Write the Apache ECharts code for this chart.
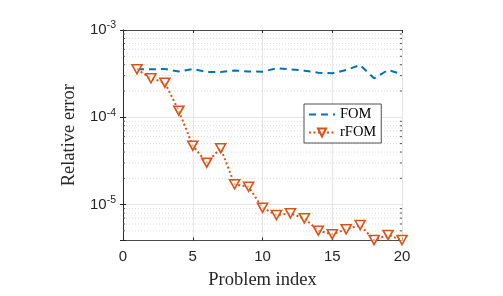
<!DOCTYPE html>
<html>
<head>
<meta charset="utf-8">
<script src="https://cdn.jsdelivr.net/npm/echarts@6/dist/echarts.min.js"></script>
<style>html,body{margin:0;padding:0;background:#fff;}#c{width:503px;height:296px;}</style>
</head>
<body>
<div id="c"></div>
<script>
var problemIndex = [1,2,3,4,5,6,7,8,9,10,11,12,13,14,15,16,17,18,19,20];
var fomError = [3.55e-4,3.55e-4,3.57e-4,3.35e-4,3.57e-4,3.3e-4,3.3e-4,3.44e-4,3.35e-4,3.33e-4,3.64e-4,3.55e-4,3.42e-4,3.24e-4,3.19e-4,3.48e-4,3.97e-4,2.8e-4,3.48e-4,3.11e-4];
var rfomError = [3.55e-4,2.8e-4,2.49e-4,1.19e-4,4.73e-5,3.02e-5,4.42e-5,1.71e-5,1.6e-5,9.2e-6,7.6e-6,7.94e-6,6.96e-6,5.03e-6,4.57e-6,5.21e-6,5.84e-6,3.92e-6,4.49e-6,3.92e-6];
var xTicks = [0,5,10,15,20];
var yMin = 3.88e-6, yMax = 1e-3;
var minorVals = [5e-6,6e-6,7e-6,8e-6,9e-6,2e-5,3e-5,4e-5,5e-5,6e-5,7e-5,8e-5,9e-5,2e-4,3e-4,4e-4,5e-4,6e-4,7e-4,8e-4,9e-4];

var axisColor = '#262626';
var chart = echarts.init(document.getElementById('c'), null, {renderer:'canvas'});
function pairs(ys){ return problemIndex.map(function(x,i){return [x, ys[i]];}); }
function yFmt(v){
  var e = Math.log10(v);
  if (Math.abs(e - Math.round(e)) > 1e-6) return '';
  return '{b|10}{s|' + Math.round(e) + '}';
}
var option = {
  animation: false,
  backgroundColor: '#fff',
  grid: {left: 123, right: 101, top: 30, bottom: 55.5, containLabel: false},
  legend: {
    orient: 'vertical', left: 304, top: 104,
    itemWidth: 26, itemHeight: 10, itemGap: 3,
    padding: [3, 5, 3, 4],
    borderColor: axisColor, borderWidth: 0.8, backgroundColor: '#fff',
    textStyle: {fontFamily: 'Liberation Serif', fontSize: 14.5, color: '#000'},
    data: [{name: 'FOM', itemStyle: {opacity: 0}}, {name: 'rFOM'}]
  },
  xAxis: [{
    type: 'value', min: 0, max: 20, interval: 5,
    axisLine: {show: true, lineStyle: {color: axisColor, width: 0.8}},
    axisTick: {show: true, inside: true, length: 3, lineStyle: {color: axisColor}},
    axisLabel: {color: axisColor, fontFamily: 'Liberation Sans', fontSize: 15, margin: 9},
    splitLine: {show: true, lineStyle: {color: '#dedede', width: 0.8}},
    name: 'Problem index', nameLocation: 'middle', nameGap: 30,
    nameTextStyle: {fontFamily: 'Liberation Serif', fontSize: 18.5, color: axisColor}
  }, {
    type: 'value', min: 0, max: 20, interval: 5, position: 'top',
    axisLine: {show: true, lineStyle: {color: axisColor, width: 0.8}},
    axisTick: {show: true, inside: true, length: 3, lineStyle: {color: axisColor}},
    axisLabel: {show: false}, splitLine: {show: false}
  }],
  yAxis: [{
    type: 'log', logBase: 10, min: yMin, max: yMax,
    axisLine: {show: true, lineStyle: {color: axisColor, width: 0.8}},
    axisTick: {show: true, inside: true, length: 3, lineStyle: {color: axisColor}},
    axisLabel: {
      color: axisColor, margin: 7, formatter: yFmt,
      rich: {
        b: {fontFamily: 'Liberation Sans', fontSize: 15, color: axisColor},
        s: {fontFamily: 'Liberation Sans', fontSize: 10.5, color: axisColor, verticalAlign: 'bottom', padding: [0, 0, 9, 0]}
      }
    },
    splitLine: {show: true, lineStyle: {color: '#dedede', width: 0.8}},
    name: 'Relative error', nameLocation: 'middle', nameGap: 44,
    nameTextStyle: {fontFamily: 'Liberation Serif', fontSize: 18.5, color: axisColor}
  }, {
    type: 'log', logBase: 10, min: yMin, max: yMax, position: 'right',
    axisLine: {show: true, lineStyle: {color: axisColor, width: 0.8}},
    axisTick: {show: true, inside: true, length: 3, lineStyle: {color: axisColor}},
    axisLabel: {show: false}, splitLine: {show: false}
  }],
  series: [{
    type: 'custom', silent: true, z: 1,
    data: minorVals.map(function(v){return [v];}),
    encode: {y: 0},
    renderItem: function(params, api){
      var v = api.value(0);
      var l = api.coord([0, v]), r = api.coord([20, v]);
      return {type: 'group', children: [
        {type: 'line', shape: {x1: l[0], y1: l[1], x2: r[0], y2: r[1]},
         style: {stroke: '#cfcfcf', lineWidth: 0.7, lineDash: [1, 2]}},
        {type: 'line', shape: {x1: l[0], y1: l[1], x2: l[0] + 2, y2: l[1]},
         style: {stroke: axisColor, lineWidth: 0.8}},
        {type: 'line', shape: {x1: r[0] - 2, y1: r[1], x2: r[0], y2: r[1]},
         style: {stroke: axisColor, lineWidth: 0.8}}
      ]};
    }
  }, {
    name: 'FOM', type: 'line', data: pairs(fomError), z: 3,
    showSymbol: false, symbol: 'none',
    lineStyle: {color: '#0072BD', width: 2, type: [7, 5]},
    itemStyle: {color: '#0072BD'}
  }, {
    name: 'rFOM', type: 'line', data: pairs(rfomError), z: 4,
    symbol: 'triangle', symbolRotate: 180, symbolSize: [10, 9],
    lineStyle: {color: '#D95319', width: 2, type: [2, 2.5]},
    itemStyle: {color: 'rgba(255,255,255,0.5)', borderColor: '#D95319', borderWidth: 1.6}
  }]
};
chart.setOption(option);
</script>
</body>
</html>
